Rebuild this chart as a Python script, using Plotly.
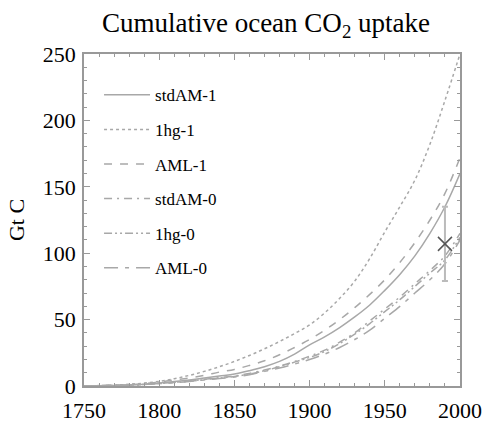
import plotly.graph_objects as go

years = list(range(1750, 2001, 10))

std_am_1 = [0, 0.2, 0.4, 0.8, 1.4, 2.3, 3.3, 4.5, 6, 7.5, 9, 11.5, 14.5, 18.5, 24, 31,
            37, 44, 52, 61, 72, 84, 98, 115, 135, 160]
hg_1 = [0, 0.3, 0.7, 1.3, 2.2, 3.5, 5.5, 8, 11, 14.5, 18.5, 23, 28, 33.5, 39.5, 46,
        55, 66, 79, 96, 116, 135, 155, 182, 215, 250]
aml_1 = [0, 0.2, 0.5, 1, 1.8, 3, 4.5, 6, 8, 10.5, 12.5, 15.5, 19, 23.5, 29, 35,
         42, 50, 59, 69, 80, 93, 108, 125, 145, 172]
std_am_0 = [0, 0.2, 0.4, 0.7, 1.2, 2, 2.8, 3.8, 5, 6.3, 7.5, 9.5, 12, 15, 18.5, 22.5,
            27, 33, 40, 49, 58, 67, 77, 87, 98, 115]
hg_0 = [0, 0.2, 0.4, 0.7, 1.2, 1.9, 2.7, 3.6, 4.8, 6, 7.2, 9, 11.5, 14.5, 18, 21.5,
        26, 32, 39, 47, 56, 65, 75, 85, 95, 112]
aml_0 = [0, 0.2, 0.4, 0.7, 1.1, 1.8, 2.5, 3.4, 4.5, 5.6, 6.8, 8.5, 11, 13.5, 16.5, 20,
         24, 29, 35, 42, 51, 60, 70, 80, 92, 110]

series_names = ["stdAM-1", "1hg-1", "AML-1", "stdAM-0", "1hg-0", "AML-0"]
series_vals = [std_am_1, hg_1, aml_1, std_am_0, hg_0, aml_0]
dashes = ["solid", "dot", "8px,8px", "8px,5px,2px,5px", "8px,3px,2px,3px,2px,3px", "14px,7px,4px,7px"]

obs_year = [1990]
obs_val = [107]
obs_err = [28]

serif = "Liberation Serif, Times New Roman, serif"
line_col = "#a8a8a8"
axis_col = "#999999"

fig = go.Figure()
for i, (name, vals, d) in enumerate(zip(series_names, series_vals, dashes)):
    fig.add_trace(go.Scatter(
        x=years, y=vals, mode="lines", name=name,
        line=dict(color=line_col, width=1.5, dash=d, shape="spline"),
        legendgroup=f"g{i}",
    ))

fig.add_trace(go.Scatter(
    x=obs_year, y=obs_val, mode="markers", showlegend=False,
    marker=dict(symbol="x-thin", size=14, line=dict(color="#555555", width=1.5)),
    error_y=dict(type="data", array=obs_err, color="#bbbbbb", thickness=2, width=3),
))

fig.update_layout(
    width=483, height=425,
    margin=dict(l=84, r=23, t=54, b=39),
    paper_bgcolor="white", plot_bgcolor="white",
    font=dict(family=serif, size=22, color="black"),
    title=dict(text="Cumulative ocean CO<sub>2</sub> uptake", x=266 / 483, xanchor="center",
               xref="container", yref="container", y=1 - 23 / 425, yanchor="middle",
               font=dict(family=serif, size=27, color="black")),
    legend=dict(x=0.04, y=0.93, xanchor="left", yanchor="top", bgcolor="rgba(0,0,0,0)",
                font=dict(family=serif, size=17, color="black"), tracegroupgap=9.5,
                itemwidth=46),
    showlegend=True,
)

fig.update_xaxes(range=[1750, 2000], tickmode="linear", tick0=1750, dtick=50,
                 ticks="inside", ticklen=6, tickcolor=axis_col,
                 minor=dict(dtick=10, ticks="inside", ticklen=3, tickcolor=axis_col),
                 showline=True, linecolor=axis_col, linewidth=1.5, mirror="ticks",
                 showgrid=False, zeroline=False, ticklabelstandoff=4,
                 automargin=False, ticklabeloverflow="allow",
                 tickfont=dict(family=serif, size=22, color="black"))
fig.update_yaxes(range=[0, 250], tickmode="linear", tick0=0, dtick=50,
                 ticks="inside", ticklen=6, tickcolor=axis_col,
                 minor=dict(dtick=10, ticks="inside", ticklen=3, tickcolor=axis_col),
                 showline=True, linecolor=axis_col, linewidth=1.5, mirror="ticks",
                 showgrid=False, zeroline=False, ticklabelstandoff=2,
                 automargin=False, ticklabeloverflow="allow",
                 title=dict(text="Gt C", font=dict(family=serif, size=22, color="black"), standoff=12),
                 tickfont=dict(family=serif, size=22, color="black"))

fig.write_html("out.html", config={"displayModeBar": False},
               post_script="document.body.style.margin='0';document.body.style.overflow='hidden';")
